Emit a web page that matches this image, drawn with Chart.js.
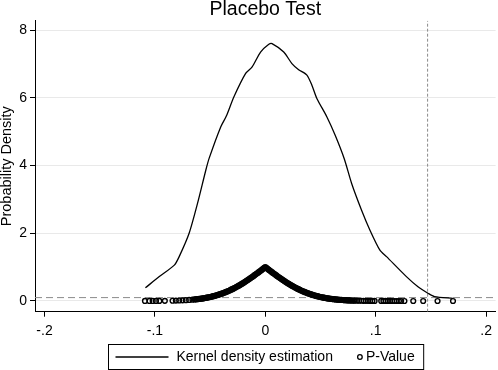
<!DOCTYPE html>
<html>
<head>
<meta charset="utf-8">
<title>Placebo Test</title>
<script src="https://cdn.jsdelivr.net/npm/chart.js@4.4.0/dist/chart.umd.min.js"></script>
<style>
  html, body { margin: 0; padding: 0; background: #fff; }
</style>
</head>
<body>
<canvas id="placeboChart" width="498" height="370"></canvas>
<script>
// kernel density of the placebo coefficients
const kdeX = [-0.1086, -0.0960, -0.0824, -0.0780, -0.0690, -0.0614, -0.0539, -0.0509, -0.0404, -0.0353,
  -0.0284, -0.0178, -0.0119, -0.0043, 0.0032, 0.0061, 0.0167, 0.0241, 0.0302, 0.0377,
  0.0422, 0.0467, 0.0557, 0.0632, 0.0715, 0.0782, 0.0872, 0.0948, 0.1038, 0.1098,
  0.1278, 0.1383, 0.1473, 0.1533, 0.1698];
const kdeY = [0.39, 0.72, 1.06, 1.31, 2.00, 2.88, 3.86, 4.21, 5.14, 5.46,
  6.03, 6.72, 6.91, 7.35, 7.58, 7.60, 7.35, 7.01, 6.83, 6.67,
  6.37, 5.98, 5.44, 4.90, 4.20, 3.47, 2.68, 2.09, 1.50, 1.31,
  0.72, 0.42, 0.23, 0.13, 0.08];

// p-values of the placebo coefficients
const pValX = [
  // left tail
  -0.109, -0.105, -0.102, -0.099, -0.096, -0.091, -0.084, -0.081, -0.078, -0.075,
  -0.072, -0.069, -0.066,
  // dense band, left side
  -0.064, -0.063, -0.062, -0.061, -0.060, -0.059, -0.058, -0.057, -0.056, -0.055,
  -0.054, -0.053, -0.052, -0.051, -0.050, -0.049, -0.048, -0.047, -0.046, -0.045,
  -0.044, -0.043, -0.042, -0.041, -0.040, -0.039, -0.038, -0.037, -0.036, -0.035,
  -0.034, -0.033, -0.032, -0.031, -0.030, -0.029, -0.028, -0.027, -0.026, -0.025,
  -0.024, -0.023, -0.022, -0.021, -0.020, -0.019, -0.018, -0.017, -0.016, -0.015,
  -0.014, -0.013, -0.012, -0.011, -0.010, -0.009, -0.008, -0.007, -0.006, -0.005,
  -0.004, -0.003, -0.002, -0.001,
  // dense band, right side
  0.000, 0.001, 0.002, 0.003, 0.004, 0.005, 0.006, 0.007, 0.008, 0.009,
  0.010, 0.011, 0.012, 0.013, 0.014, 0.015, 0.016, 0.017, 0.018, 0.019,
  0.020, 0.021, 0.022, 0.023, 0.024, 0.025, 0.026, 0.027, 0.028, 0.029,
  0.030, 0.031, 0.032, 0.033, 0.034, 0.035, 0.036, 0.037, 0.038, 0.039,
  0.040, 0.041, 0.042, 0.043, 0.044, 0.045, 0.046, 0.047, 0.048, 0.049,
  0.050, 0.051, 0.052, 0.053, 0.054, 0.055, 0.056, 0.057, 0.058, 0.059,
  0.060, 0.061, 0.062, 0.063, 0.064, 0.065, 0.066, 0.067, 0.068, 0.069,
  0.070, 0.071, 0.072, 0.073, 0.074, 0.075, 0.076, 0.077, 0.078, 0.079,
  0.080, 0.081,
  // right tail
  0.083, 0.085, 0.087, 0.089, 0.091, 0.093, 0.095, 0.097, 0.099, 0.105,
  0.107, 0.109, 0.111, 0.113, 0.115, 0.117, 0.119, 0.121, 0.123, 0.126,
  0.134, 0.143, 0.156, 0.170
];
const pValY = [
  0.001, 0.001, 0.001, 0.002, 0.003, 0.004, 0.008, 0.011, 0.015, 0.019,
  0.024, 0.031, 0.039,
  0.046, 0.049, 0.053, 0.057, 0.061, 0.065, 0.070, 0.075, 0.080, 0.086,
  0.092, 0.098, 0.104, 0.111, 0.118, 0.126, 0.134, 0.142, 0.151, 0.160,
  0.169, 0.179, 0.189, 0.200, 0.211, 0.223, 0.235, 0.248, 0.261, 0.274,
  0.288, 0.302, 0.317, 0.333, 0.348, 0.365, 0.382, 0.399, 0.417, 0.435,
  0.453, 0.472, 0.492, 0.512, 0.532, 0.553, 0.574, 0.595, 0.617, 0.639,
  0.662, 0.685, 0.708, 0.731, 0.755, 0.779, 0.803, 0.827, 0.851, 0.876,
  0.900, 0.925, 0.950, 0.975,
  1.000, 0.975, 0.950, 0.925, 0.900, 0.876, 0.851, 0.827, 0.803, 0.779,
  0.755, 0.731, 0.708, 0.685, 0.662, 0.639, 0.617, 0.595, 0.574, 0.553,
  0.532, 0.512, 0.492, 0.472, 0.453, 0.435, 0.417, 0.399, 0.382, 0.365,
  0.348, 0.333, 0.317, 0.302, 0.288, 0.274, 0.261, 0.248, 0.235, 0.223,
  0.211, 0.200, 0.189, 0.179, 0.169, 0.160, 0.151, 0.142, 0.134, 0.126,
  0.118, 0.111, 0.104, 0.098, 0.092, 0.086, 0.080, 0.075, 0.070, 0.065,
  0.061, 0.057, 0.053, 0.049, 0.046, 0.042, 0.039, 0.036, 0.034, 0.031,
  0.029, 0.026, 0.024, 0.023, 0.021, 0.019, 0.018, 0.016, 0.015, 0.014,
  0.012, 0.011,
  0.010, 0.008, 0.007, 0.006, 0.005, 0.004, 0.003, 0.003, 0.002, 0.001,
  0.001, 0.001, 0.001, 0.001, 0.000, 0.000, 0.000, 0.000, 0.000, 0.000,
  0.000, 0.000, 0.000, 0.000
];

const xTickValues = [-0.2, -0.1, 0, 0.1, 0.2];
const xTickLabels = ['-.2', '-.1', '0', '.1', '.2'];
const yTickValues = [0, 2, 4, 6, 8];
const yTickLabels = ['0', '2', '4', '6', '8'];

const trueEstimate = 0.147; // vertical reference line
const pCutoff = 0.1;        // horizontal reference line

const xMin = -0.2086, xMax = 0.2086;
const yMin = -0.316, yMax = 8.275;

const FONT = '"Liberation Sans", Arial, Helvetica, sans-serif';

// Stata-style framed legend under the plot
const framedLegend = {
  id: 'framedLegend',
  afterDraw(chart) {
    const ctx = chart.ctx;
    const area = chart.chartArea;
    const labels = [chart.data.datasets[0].label, chart.data.datasets[1].label];
    ctx.save();
    ctx.font = '14px ' + FONT;
    const w1 = ctx.measureText(labels[0]).width;
    const w2 = ctx.measureText(labels[1]).width;
    const padL = 7, lineLen = 53, gapText = 8, gapItem = 27, gapMarker = 6, padR = 9;
    const boxW = padL + lineLen + gapText + w1 + gapItem + gapMarker + w2 + padR;
    const left = Math.round((area.left + area.right) / 2 - boxW / 2) + 0.5;
    const top = chart.height - 26 + 0.5;
    const h = 25;
    const cy = top + h / 2;

    ctx.strokeStyle = '#000';
    ctx.lineWidth = 1;
    ctx.strokeRect(left, top, boxW, h);

    let x = left + padL;
    ctx.lineWidth = 1.3;
    ctx.beginPath();
    ctx.moveTo(x, cy);
    ctx.lineTo(x + lineLen, cy);
    ctx.stroke();
    x += lineLen + gapText;

    ctx.fillStyle = '#000';
    ctx.textBaseline = 'middle';
    ctx.textAlign = 'left';
    ctx.fillText(labels[0], x, cy);
    x += w1 + gapItem;

    ctx.lineWidth = 1.3;
    ctx.beginPath();
    ctx.arc(x, cy, 2.3, 0, Math.PI * 2);
    ctx.stroke();
    x += gapMarker;
    ctx.fillText(labels[1], x, cy);
    ctx.restore();
  }
};

const ctx = document.getElementById('placeboChart');

new Chart(ctx, {
  type: 'scatter',
  data: {
    datasets: [{
      label: 'Kernel density estimation',
      type: 'line',
      data: kdeX.map((x, i) => ({ x: x, y: kdeY[i] })),
      showLine: true,
      borderColor: '#000',
      borderWidth: 1.3,
      pointRadius: 0,
      tension: 0.25,
      fill: false
    }, {
      label: 'P-Value',
      data: pValX.map((x, i) => ({ x: x, y: pValY[i] })),
      pointStyle: 'circle',
      pointRadius: 2.4,
      pointBorderWidth: 1.4,
      pointBorderColor: '#000',
      pointBackgroundColor: 'rgba(255,255,255,0)'
    }, {
      label: 'p cutoff',
      type: 'line',
      data: [{ x: xMin, y: pCutoff }, { x: xMax, y: pCutoff }],
      borderColor: '#8a8a8a',
      borderWidth: 1,
      borderDash: [7, 4],
      pointRadius: 0
    }, {
      label: 'true estimate',
      type: 'line',
      data: [{ x: trueEstimate, y: yMin }, { x: trueEstimate, y: yMax }],
      borderColor: '#8a8a8a',
      borderWidth: 1,
      borderDash: [3, 2],
      pointRadius: 0
    }]
  },
  options: {
    responsive: false,
    animation: false,
    devicePixelRatio: 1,
    layout: { autoPadding: false, padding: { left: 0, right: 0, top: 0, bottom: 28.3 } },
    plugins: {
      legend: { display: false },
      tooltip: { enabled: false },
      title: {
        display: true,
        text: 'Placebo Test',
        fullSize: false,
        color: '#000',
        font: { family: FONT, size: 19.5, weight: 'normal', lineHeight: 1 },
        padding: { top: 0, bottom: 1.2 }
      }
    },
    scales: {
      x: {
        type: 'linear',
        min: xMin,
        max: xMax,
        afterBuildTicks: scale => { scale.ticks = xTickValues.map(v => ({ value: v })); },
        afterFit: scale => { scale.height = 30; },
        ticks: {
          color: '#000',
          font: { family: FONT, size: 14 },
          padding: 6,
          maxRotation: 0,
          callback: (value, index) => xTickLabels[index]
        },
        grid: { drawOnChartArea: false, tickColor: '#000', tickLength: 5 },
        border: { color: '#000', width: 1 }
      },
      y: {
        type: 'linear',
        min: yMin,
        max: yMax,
        afterBuildTicks: scale => { scale.ticks = yTickValues.map(v => ({ value: v })); },
        afterFit: scale => { scale.width = 35; },
        ticks: {
          color: '#000',
          font: { family: FONT, size: 14 },
          padding: 3,
          callback: (value, index) => yTickLabels[index]
        },
        grid: { color: '#e9e9e9', lineWidth: 1, tickColor: '#000', tickLength: 5 },
        border: { color: '#000', width: 1 },
        title: {
          display: true,
          text: 'Probability Density',
          color: '#000',
          font: { family: FONT, size: 14.5, lineHeight: 1 },
          padding: { top: 0, bottom: 0 }
        }
      }
    }
  },
  plugins: [framedLegend]
});
</script>
</body>
</html>
